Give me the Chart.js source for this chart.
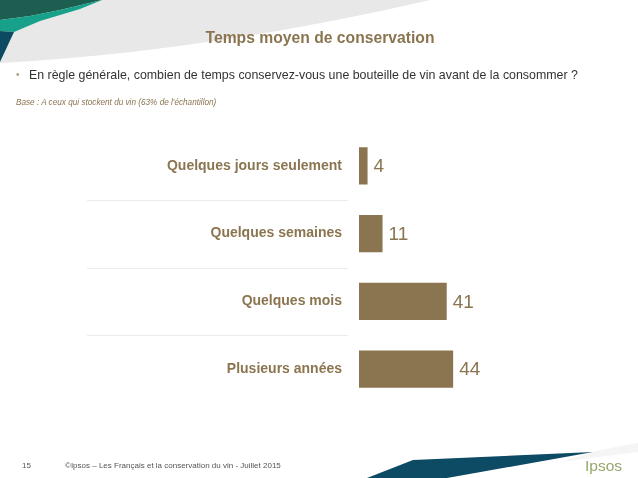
<!DOCTYPE html>
<html>
<head>
<meta charset="utf-8">
<script src="https://cdn.jsdelivr.net/npm/chart.js@4"></script>
<style>
  html, body { margin: 0; padding: 0; background: #ffffff; }
  #page { position: relative; width: 638px; height: 478px; overflow: hidden; background: #fff; font-family: Arial, "Liberation Sans", sans-serif; }
  #bg { position: absolute; left: 0; top: 0; }
  #c { position: absolute; left: 0; top: 0; }
  .t { position: absolute; white-space: nowrap; }
</style>
</head>
<body>
<div id="page">
  <svg id="bg" width="638" height="478" viewBox="0 0 638 478">
    <path d="M0,0 L430,0 C300,30 150,55 0,63 Z" fill="#e8e8e8"/>
    <polygon points="0,0 102,0 60,10 30,16 0,20" fill="#1c5f51"/>
    <polygon points="0,20 30,16 60,10 102,0 80,9 40,21 14,32 0,31" fill="#17a08a"/>
    <polygon points="0,31 14,32 0,62" fill="#0c4a62"/>
    <polygon points="560,462 600,450 638,443 638,452" fill="#f5f5f5"/>
    <polygon points="367,478 413,460 593,452 447,478" fill="#0d4a63"/>
  </svg>
  <canvas id="c" width="638" height="478"></canvas>
  <div class="t" style="left:0;width:640px;top:28px;line-height:20px;text-align:center;font-weight:bold;font-size:15.7px;color:#8b7550;">Temps moyen de conservation</div>
  <div class="t" style="left:16px;top:66px;line-height:18px;font-size:10px;color:#a89a80;">•</div>
  <div class="t" style="left:29px;top:66px;line-height:18px;font-size:12.4px;color:#333333;">En règle générale, combien de temps conservez-vous une bouteille de vin avant de la consommer ?</div>
  <div class="t" style="left:16px;top:97px;line-height:12px;font-size:8.2px;font-style:italic;color:#8b7550;">Base : A ceux qui stockent du vin (63% de l'échantillon)</div>
  <div class="t" style="left:22px;top:460px;line-height:12px;font-size:8px;color:#555555;">15</div>
  <div class="t" style="left:65px;top:460px;line-height:12px;font-size:8px;color:#555555;">©Ipsos – Les Français et la conservation du vin - Juillet 2015</div>
  <div class="t" style="left:585px;top:456px;line-height:20px;font-size:15.5px;color:#95a86c;">Ipsos</div>
</div>
<script>
const categories = ["Quelques jours seulement", "Quelques semaines", "Quelques mois", "Plusieurs années"];
const values = [4, 11, 41, 44];
const xMin = 0;
const xMax = 100;

const brown = "#8b7550";

const separatorPlugin = {
  id: "separators",
  beforeDatasetsDraw(chart) {
    const y = chart.scales.y;
    const ctx = chart.ctx;
    ctx.save();
    ctx.strokeStyle = "#ebebeb";
    ctx.lineWidth = 1;
    for (let i = 0; i < categories.length - 1; i++) {
      const py = Math.round((y.getPixelForValue(i) + y.getPixelForValue(i + 1)) / 2) + 0.5;
      ctx.beginPath();
      ctx.moveTo(87, py);
      ctx.lineTo(348, py);
      ctx.stroke();
    }
    ctx.restore();
  }
};

const valueLabelPlugin = {
  id: "valueLabels",
  afterDatasetsDraw(chart) {
    const ctx = chart.ctx;
    const meta = chart.getDatasetMeta(0);
    ctx.save();
    ctx.font = "19px Arial, 'Liberation Sans', sans-serif";
    ctx.fillStyle = brown;
    ctx.textAlign = "left";
    ctx.textBaseline = "middle";
    meta.data.forEach((el, i) => {
      ctx.fillText(String(values[i]), el.x + 6, el.y + 1);
    });
    ctx.restore();
  }
};

new Chart(document.getElementById("c"), {
  type: "bar",
  data: {
    labels: categories,
    datasets: [{
      data: values,
      backgroundColor: brown,
      borderWidth: 0,
      barPercentage: 0.55,
      categoryPercentage: 1
    }]
  },
  options: {
    indexAxis: "y",
    responsive: false,
    animation: false,
    devicePixelRatio: 1,
    layout: { padding: { top: 132, bottom: 75, right: 65, left: 0 } },
    plugins: { legend: { display: false }, tooltip: { enabled: false }, title: { display: false } },
    scales: {
      x: { min: xMin, max: xMax, display: false },
      y: {
        grid: { display: false },
        border: { display: false },
        ticks: {
          color: brown,
          padding: 9,
          font: { family: "Arial, 'Liberation Sans', sans-serif", size: 14, weight: "bold" }
        },
        afterFit(scale) { scale.width = 359; }
      }
    }
  },
  plugins: [separatorPlugin, valueLabelPlugin]
});
</script>
</body>
</html>
